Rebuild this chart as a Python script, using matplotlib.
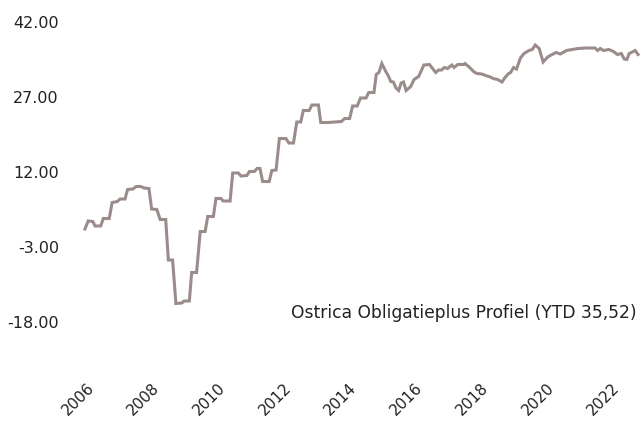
import matplotlib
matplotlib.use("Agg")
import matplotlib.pyplot as plt

# decimal years and cumulative return (%)
years = [2006.21, 2006.31, 2006.45, 2006.52, 2006.69, 2006.77, 2006.95, 2007.04, 2007.20, 2007.28,
         2007.43, 2007.51, 2007.67, 2007.77, 2007.91, 2008.01, 2008.16, 2008.24, 2008.40, 2008.50,
         2008.67, 2008.75, 2008.88, 2008.98, 2009.16, 2009.23, 2009.39, 2009.46, 2009.61, 2009.72,
         2009.87, 2009.95, 2010.12, 2010.20, 2010.35, 2010.42, 2010.63, 2010.71, 2010.88, 2010.96,
         2011.14, 2011.22, 2011.37, 2011.45, 2011.54, 2011.62, 2011.82, 2011.90, 2012.03, 2012.13,
         2012.33, 2012.42, 2012.56, 2012.66, 2012.78, 2012.86, 2013.04, 2013.12, 2013.32, 2013.39,
         2013.61, 2013.83, 2014.02, 2014.12, 2014.27, 2014.36, 2014.50, 2014.60, 2014.77, 2014.85,
         2015.01, 2015.08, 2015.16, 2015.25, 2015.37, 2015.45, 2015.52, 2015.60, 2015.68, 2015.76,
         2015.84, 2015.91, 2015.99, 2016.13, 2016.23, 2016.37, 2016.53, 2016.70, 2016.89, 2016.98,
         2017.07, 2017.15, 2017.25, 2017.38, 2017.45, 2017.56, 2017.74, 2017.78, 2017.89, 2017.97,
         2018.06, 2018.15, 2018.29, 2018.41, 2018.55, 2018.64, 2018.77, 2018.91, 2019.00, 2019.11,
         2019.17, 2019.26, 2019.35, 2019.47, 2019.58, 2019.73, 2019.83, 2019.92, 2020.04, 2020.16,
         2020.30, 2020.43, 2020.56, 2020.68, 2020.77, 2020.87, 2021.04, 2021.23, 2021.47, 2021.74,
         2021.82, 2021.90, 2022.00, 2022.16, 2022.30, 2022.42, 2022.54, 2022.63, 2022.71, 2022.78,
         2022.85, 2022.96, 2023.05]
values = [0.6, 2.2, 2.1, 1.2, 1.2, 2.7, 2.7, 5.9, 6.1, 6.6,
          6.6, 8.5, 8.6, 9.1, 9.1, 8.8, 8.7, 4.6, 4.5, 2.5,
          2.5, -5.6, -5.6, -14.3, -14.2, -13.8, -13.8, -8.1, -8.1, 0.1,
          0.1, 3.1, 3.1, 6.7, 6.7, 6.2, 6.2, 11.8, 11.8, 11.2,
          11.3, 12.1, 12.1, 12.7, 12.7, 10.1, 10.1, 12.3, 12.4, 18.7,
          18.7, 17.8, 17.8, 22.0, 22.0, 24.3, 24.3, 25.4, 25.4, 21.9,
          21.9, 22.0, 22.1, 22.7, 22.7, 25.2, 25.2, 26.8, 26.8, 27.9,
          27.9, 31.5, 31.9, 33.7, 32.1, 31.2, 30.1, 30.0, 28.8, 28.3,
          29.8, 30.0, 28.3, 29.1, 30.5, 31.1, 33.4, 33.5, 31.9, 32.4,
          32.4, 32.9, 32.7, 33.4, 32.9, 33.5, 33.5, 33.7, 33.1, 32.6,
          32.0, 31.7, 31.6, 31.3, 31.0, 30.7, 30.5, 30.0, 30.9, 31.7,
          31.9, 32.9, 32.6, 34.8, 35.7, 36.3, 36.5, 37.4, 36.7, 34.0,
          35.0, 35.5, 35.9, 35.6, 35.9, 36.3, 36.5, 36.7, 36.8, 36.8,
          36.3, 36.7, 36.3, 36.5, 36.1, 35.5, 35.7, 34.6, 34.5, 35.7,
          35.9, 36.3, 35.5]

x_ticks = [2006, 2008, 2010, 2012, 2014, 2016, 2018, 2020, 2022]
y_ticks = [-18, -3, 12, 27, 42]
series_label = "Ostrica Obligatieplus Profiel (YTD 35,52)"

W, H = 641, 421
fig = plt.figure(figsize=(W / 100, H / 100), dpi=100)
ax_l, ax_r, ax_t, ax_b = 70, 641, 22, 357
ax = fig.add_axes([ax_l / W, 1 - ax_b / H, (ax_r - ax_l) / W, (ax_b - ax_t) / H])

ax.plot(years, values, color="#9b8c8c", lw=2.2, solid_joinstyle="miter", clip_on=False)

ax.set_xlim(2005.756, 2023.14)
ax.set_ylim(-25, 42)
for s in ax.spines.values():
    s.set_visible(False)

txt_color = "#222222"
fs = 11.5
ax.set_xticks(x_ticks)
ax.set_xticklabels([str(y) for y in x_ticks], rotation=45, ha="center",
                   fontsize=11, color=txt_color)
ax.set_yticks(y_ticks)
ax.set_yticklabels([f"{v:.2f}" for v in y_ticks], fontsize=fs, color=txt_color)
ax.tick_params(axis="x", length=0, pad=17)
ax.tick_params(axis="y", length=0, pad=8)

fig.text(637 / W, 1 - 313 / H, series_label, ha="right", va="center",
         fontsize=12.3, color=txt_color)

fig.savefig("out.png", dpi=100, facecolor="white")
